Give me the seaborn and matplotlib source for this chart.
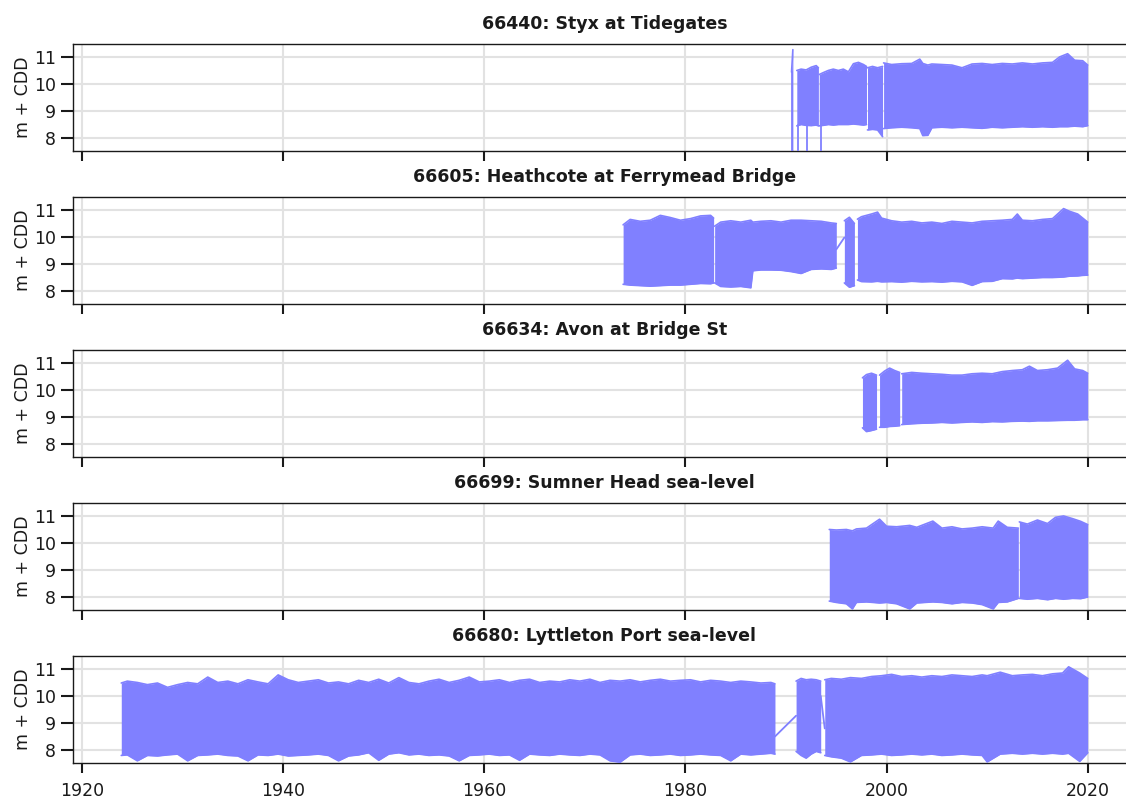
import numpy as np
import pandas as pd
import matplotlib
matplotlib.use("Agg")
import matplotlib.pyplot as plt
import seaborn as sns

# ---------------- data ----------------
titles = ["66440: Styx at Tidegates",
          "66605: Heathcote at Ferrymead Bridge",
          "66634: Avon at Bridge St",
          "66699: Sumner Head sea-level",
          "66680: Lyttleton Port sea-level"]

x_ticks = [1920, 1940, 1960, 1980, 2000, 2020]
y_ticks = [8, 9, 10, 11]

# Styx: envelope of high / low water per recording segment
styx_year = [1990.55, 1990.68,
             1991.07, 1991.5, 1992.0, 1992.5, 1993.0, 1993.22,
             1993.3, 1993.7, 1994.2, 1994.7, 1995.2, 1995.7, 1996.2, 1996.7, 1997.2, 1997.7, 1998.0,
             1998.1, 1998.6, 1999.1, 1999.6,
             1999.7, 2000.5, 2001.5, 2002.5, 2003.3, 2003.6, 2004.1, 2004.5, 2005.5, 2006.5, 2007.5,
             2008.5, 2009.5, 2010.5, 2011.5, 2012.5, 2013.5, 2014.5, 2015.5, 2016.5, 2017.2, 2018.0,
             2018.7, 2019.5, 2020.0]
styx_hi = [10.44, 11.27,
           10.5, 10.55, 10.52, 10.62, 10.68, 10.6,
           10.35, 10.42, 10.5, 10.55, 10.5, 10.55, 10.45, 10.75, 10.8, 10.72, 10.65,
           10.6, 10.65, 10.6, 10.65,
           10.78, 10.72, 10.75, 10.76, 10.92, 10.76, 10.7, 10.74, 10.72, 10.7, 10.6,
           10.74, 10.76, 10.72, 10.76, 10.74, 10.78, 10.74, 10.78, 10.8, 11.0, 11.12,
           10.88, 10.86, 10.7]
styx_lo = [7.0, 7.0,
           8.45, 8.5, 8.47, 8.46, 8.48, 8.45,
           8.45, 8.47, 8.5, 8.48, 8.5, 8.5, 8.5, 8.52, 8.5, 8.48, 8.5,
           8.3, 8.32, 8.3, 8.05,
           8.35, 8.38, 8.4, 8.38, 8.35, 8.09, 8.1, 8.38, 8.4, 8.38, 8.4,
           8.38, 8.36, 8.4, 8.38, 8.4, 8.42, 8.4, 8.42, 8.4, 8.42, 8.42,
           8.44, 8.42, 8.46]
styx_seg = [0] * 2 + [1] * 6 + [2] * 11 + [3] * 4 + [4] * 25
styx_link_year, styx_link_level, styx_link_id = [], [], []
styx_drop_year = [1990.6, 1991.2, 1992.07, 1993.5]
styx_drop_top = [10.44, 8.5, 8.5, 8.5]
styx_drop_bottom = [7.0, 7.0, 7.0, 7.0]

# Heathcote
heath_year = [1973.8, 1974.5, 1975.5, 1976.5, 1977.5, 1978.5, 1979.5, 1980.5, 1981.5, 1982.5, 1982.8,
              1982.9, 1983.5, 1984.5, 1985.5, 1986.5, 1986.7, 1987.5, 1988.5, 1989.5, 1990.5, 1991.5,
              1992.5, 1993.5, 1994.5, 1995.0,
              1995.8, 1996.3, 1996.8,
              1997.1, 1997.5, 1998.5, 1999.1, 1999.5, 2000.5, 2001.5, 2002.5, 2003.5, 2004.5, 2005.5,
              2006.5, 2007.5, 2008.5, 2009.5, 2010.5, 2011.5, 2012.5, 2013.0, 2013.5, 2014.5, 2015.5,
              2016.5, 2017.6, 2018.2, 2019.0, 2019.5, 2020.0]
heath_hi = [10.45, 10.65, 10.58, 10.62, 10.8, 10.72, 10.62, 10.68, 10.78, 10.8, 10.7,
            10.4, 10.55, 10.6, 10.55, 10.62, 10.55, 10.58, 10.6, 10.55, 10.62, 10.62,
            10.6, 10.58, 10.52, 10.5,
            10.6, 10.73, 10.5,
            10.66, 10.75, 10.85, 10.92, 10.7, 10.6, 10.55, 10.58, 10.52, 10.55, 10.5,
            10.58, 10.55, 10.52, 10.58, 10.6, 10.62, 10.65, 10.85, 10.62, 10.6, 10.65,
            10.68, 11.05, 10.95, 10.85, 10.7, 10.55]
heath_lo = [8.25, 8.22, 8.2, 8.18, 8.2, 8.22, 8.22, 8.25, 8.28, 8.27, 8.3,
            8.3, 8.17, 8.15, 8.17, 8.12, 8.75, 8.78, 8.78, 8.77, 8.72, 8.65,
            8.8, 8.82, 8.8, 8.85,
            8.3, 8.14, 8.2,
            8.41, 8.35, 8.34, 8.36, 8.34, 8.35, 8.33, 8.36, 8.34, 8.35, 8.33,
            8.36, 8.34, 8.21, 8.35, 8.36, 8.46, 8.45, 8.48, 8.46, 8.48, 8.5,
            8.5, 8.52, 8.55, 8.56, 8.58, 8.59]
heath_seg = [0] * 11 + [1] * 15 + [2] * 3 + [3] * 28
heath_link_year = [1995.0, 1995.8]
heath_link_level = [9.54, 9.98]
heath_link_id = [0, 0]
heath_drop_year, heath_drop_top, heath_drop_bottom = [], [], []

# Avon
avon_year = [1997.6, 1998.0, 1998.5, 1999.0,
             1999.3, 1999.8, 2000.3, 2000.8, 2001.3,
             2001.5, 2002.5, 2003.5, 2004.5, 2005.5, 2006.5, 2007.5, 2008.5, 2009.5, 2010.5,
             2011.5, 2012.5, 2013.5, 2014.2, 2015.0, 2016.0, 2017.0, 2018.0, 2018.7, 2019.5, 2020.0]
avon_hi = [10.45, 10.57, 10.62, 10.55,
           10.55, 10.7, 10.81, 10.72, 10.65,
           10.6, 10.65, 10.62, 10.6, 10.58, 10.55, 10.55, 10.6, 10.62, 10.6,
           10.68, 10.72, 10.75, 10.88, 10.72, 10.75, 10.81, 11.1, 10.78, 10.72, 10.62]
avon_lo = [8.6, 8.46, 8.5, 8.55,
           8.62, 8.62, 8.65, 8.66, 8.68,
           8.72, 8.75, 8.77, 8.78, 8.8, 8.78, 8.8, 8.82, 8.8, 8.83,
           8.82, 8.84, 8.85, 8.84, 8.86, 8.86, 8.87, 8.88, 8.88, 8.9, 8.9]
avon_seg = [0] * 4 + [1] * 5 + [2] * 21
avon_link_year, avon_link_level, avon_link_id = [], [], []
avon_drop_year, avon_drop_top, avon_drop_bottom = [], [], []

# Sumner Head
sumner_year = [1994.3, 1995.0, 1996.0, 1996.6, 1997.0, 1998.0, 1999.3, 2000.0, 2001.0, 2002.3,
               2003.0, 2004.6, 2005.5, 2006.5, 2007.5, 2008.5, 2009.5, 2010.6, 2011.1, 2012.0, 2013.1,
               2013.2, 2014.0, 2015.0, 2016.0, 2016.8, 2017.6, 2018.5, 2019.3, 2020.0]
sumner_hi = [10.5, 10.48, 10.5, 10.45, 10.52, 10.55, 10.88, 10.62, 10.6, 10.65,
             10.58, 10.81, 10.55, 10.6, 10.52, 10.55, 10.6, 10.55, 10.81, 10.58, 10.55,
             10.78, 10.7, 10.85, 10.72, 10.95, 11.0, 10.9, 10.8, 10.68]
sumner_lo = [7.85, 7.8, 7.75, 7.56, 7.8, 7.82, 7.78, 7.8, 7.75, 7.56,
             7.78, 7.82, 7.8, 7.75, 7.8, 7.78, 7.72, 7.56, 7.8, 7.82, 7.95,
             7.95, 7.92, 7.95, 7.9, 7.95, 7.92, 7.95, 7.94, 8.0]
sumner_seg = [0] * 21 + [1] * 9
sumner_link_year, sumner_link_level, sumner_link_id = [], [], []
sumner_drop_year, sumner_drop_top, sumner_drop_bottom = [], [], []

# Lyttleton Port
lyt_year = [1923.9, 1924.5, 1925.5, 1926.5, 1927.5, 1928.5, 1929.5, 1930.5, 1931.5, 1932.5, 1933.5,
            1934.5, 1935.5, 1936.5, 1937.5, 1938.5, 1939.5, 1940.5, 1941.5, 1942.5, 1943.5,
            1944.5, 1945.5, 1946.5, 1947.5, 1948.5, 1949.5, 1950.5, 1951.5, 1952.5, 1953.5,
            1954.5, 1955.5, 1956.5, 1957.5, 1958.5, 1959.5, 1960.5, 1961.5, 1962.5, 1963.5,
            1964.5, 1965.5, 1966.5, 1967.5, 1968.5, 1969.5, 1970.5, 1971.5, 1972.5, 1973.5,
            1974.5, 1975.5, 1976.5, 1977.5, 1978.5, 1979.5, 1980.5, 1981.5, 1982.5, 1983.5,
            1984.5, 1985.5, 1986.5, 1987.5, 1988.5, 1988.9,
            1991.0, 1991.5, 1992.0, 1992.5, 1993.0, 1993.45,
            1993.85, 1994.5, 1995.5, 1996.4, 1997.5, 1998.5, 1999.5, 2000.5, 2001.5, 2002.5,
            2003.5, 2004.5, 2005.5, 2006.5, 2007.5, 2008.5, 2009.5, 2010.0, 2011.3, 2012.5,
            2013.5, 2014.5, 2015.5, 2016.5, 2017.5, 2018.1, 2019.2, 2020.0]
lyt_hi = [10.48, 10.55, 10.5, 10.42, 10.48, 10.32, 10.42, 10.5, 10.45, 10.7, 10.5,
          10.55, 10.45, 10.6, 10.52, 10.45, 10.78, 10.6, 10.5, 10.55, 10.6,
          10.48, 10.52, 10.45, 10.58, 10.5, 10.62, 10.48, 10.68, 10.5, 10.45,
          10.55, 10.62, 10.5, 10.58, 10.7, 10.52, 10.55, 10.6, 10.5, 10.58,
          10.62, 10.5, 10.55, 10.52, 10.6, 10.55, 10.62, 10.5, 10.58, 10.55,
          10.6, 10.52, 10.58, 10.62, 10.55, 10.58, 10.6, 10.52, 10.58, 10.55,
          10.5, 10.55, 10.52, 10.48, 10.5, 10.45,
          10.55, 10.65, 10.6, 10.62, 10.6, 10.55,
          10.6, 10.65, 10.62, 10.68, 10.65, 10.72, 10.75, 10.8, 10.72, 10.75,
          10.7, 10.75, 10.72, 10.78, 10.75, 10.72, 10.78, 10.75, 10.88, 10.75,
          10.78, 10.8, 10.75, 10.82, 10.85, 11.08, 10.85, 10.65]
lyt_lo = [7.8, 7.82, 7.6, 7.8, 7.78, 7.82, 7.85, 7.6, 7.8, 7.82, 7.85,
          7.8, 7.78, 7.6, 7.82, 7.8, 7.85, 7.78, 7.8, 7.82, 7.85,
          7.8, 7.6, 7.78, 7.82, 7.9, 7.62, 7.85, 7.9, 7.82, 7.85,
          7.8, 7.82, 7.78, 7.6, 7.8, 7.82, 7.85, 7.8, 7.82, 7.62,
          7.85, 7.82, 7.8, 7.85, 7.82, 7.8, 7.85, 7.82, 7.6, 7.55,
          7.82, 7.85, 7.8, 7.82, 7.85, 7.8, 7.82, 7.85, 7.82, 7.8,
          7.6, 7.85, 7.82, 7.85, 7.88, 7.85,
          7.95, 7.8, 7.7, 7.85, 7.95, 7.9,
          7.8, 7.75, 7.7, 7.56, 7.8, 7.82, 7.85, 7.8, 7.82, 7.85,
          7.82, 7.85, 7.8, 7.82, 7.85, 7.82, 7.8, 7.56, 7.85, 7.88,
          7.85, 7.88, 7.85, 7.88, 7.85, 7.88, 7.58, 7.9]
lyt_seg = [0] * 67 + [1] * 6 + [2] * 28
lyt_link_year = [1988.9, 1991.0, 1993.45, 1993.85]
lyt_link_level = [8.5, 9.27, 10.0, 8.8]
lyt_link_id = [0, 0, 1, 1]
lyt_drop_year, lyt_drop_top, lyt_drop_bottom = [], [], []

# ---------------- styling ----------------
sns.set_style("ticks")
plt.rcParams["font.family"] = ["DejaVu Sans"]
LINE = "#8080ff"
GRID = "#e2e2e2"
INK = "#1a1a1a"
FS = 12.5

stations = [
    (titles[0], styx_year, styx_hi, styx_lo, styx_seg, styx_link_year, styx_link_level, styx_link_id,
     styx_drop_year, styx_drop_top, styx_drop_bottom),
    (titles[1], heath_year, heath_hi, heath_lo, heath_seg, heath_link_year, heath_link_level, heath_link_id,
     heath_drop_year, heath_drop_top, heath_drop_bottom),
    (titles[2], avon_year, avon_hi, avon_lo, avon_seg, avon_link_year, avon_link_level, avon_link_id,
     avon_drop_year, avon_drop_top, avon_drop_bottom),
    (titles[3], sumner_year, sumner_hi, sumner_lo, sumner_seg, sumner_link_year, sumner_link_level,
     sumner_link_id, sumner_drop_year, sumner_drop_top, sumner_drop_bottom),
    (titles[4], lyt_year, lyt_hi, lyt_lo, lyt_seg, lyt_link_year, lyt_link_level, lyt_link_id,
     lyt_drop_year, lyt_drop_top, lyt_drop_bottom),
]

W, H = 1126, 798
fig = plt.figure(figsize=(W / 100, H / 100), dpi=100)

for k, (title, yr, hi, lo, seg, lk_x, lk_y, lk_id, dr_x, dr_top, dr_bot) in enumerate(stations):
    top = 44 + 153 * k
    ax = fig.add_axes([73 / W, (H - top - 107) / H, (1136 - 73) / W, 107 / H])

    df = pd.DataFrame({"year": yr, "hi": hi, "lo": lo, "seg": seg})
    for _, g in df.groupby("seg"):
        ax.fill_between(g["year"], g["lo"], g["hi"], color=LINE, lw=0, zorder=2)

    edges = df.melt(id_vars=["year", "seg"], value_vars=["hi", "lo"],
                    var_name="edge", value_name="level")
    edges["unit"] = edges["edge"] + edges["seg"].astype(str)
    sns.lineplot(data=edges, x="year", y="level", units="unit", estimator=None,
                 color=LINE, lw=1.2, ax=ax, legend=False, zorder=3)

    if lk_x:
        links = pd.DataFrame({"year": lk_x, "level": lk_y, "unit": lk_id})
        sns.lineplot(data=links, x="year", y="level", units="unit", estimator=None, sort=False,
                     color=LINE, lw=1.3, ax=ax, legend=False, zorder=3)
    if dr_x:
        drops = pd.DataFrame({"year": dr_x + dr_x, "level": dr_top + dr_bot,
                              "unit": list(range(len(dr_x))) * 2})
        sns.lineplot(data=drops, x="year", y="level", units="unit", estimator=None, sort=False,
                     color=LINE, lw=1.3, ax=ax, legend=False, zorder=3)

    ax.set_xlim(1919.1, 2024.8)
    ax.set_ylim(7.52, 11.48)
    ax.set_xticks(x_ticks)
    ax.set_yticks(y_ticks)
    ax.grid(True, color=GRID, lw=1.5)
    ax.set_axisbelow(True)
    for sp in ax.spines.values():
        sp.set_visible(True)
        sp.set_color(INK)
        sp.set_linewidth(1.0)
    ax.tick_params(axis="x", direction="out", length=7, width=1.5, labelsize=FS,
                   colors=INK, pad=6.5)
    ax.tick_params(axis="y", direction="out", length=9, width=1.5, labelsize=FS,
                   colors=INK, pad=3.5)
    if k < 4:
        ax.tick_params(axis="x", labelbottom=False)
    ax.set_xlabel("")
    ax.set_ylabel("m + CDD", fontsize=FS, color=INK, labelpad=1)
    ax.set_title(title, fontsize=FS, fontweight="bold", color=INK, pad=11)

fig.savefig("out.png", dpi=100)
